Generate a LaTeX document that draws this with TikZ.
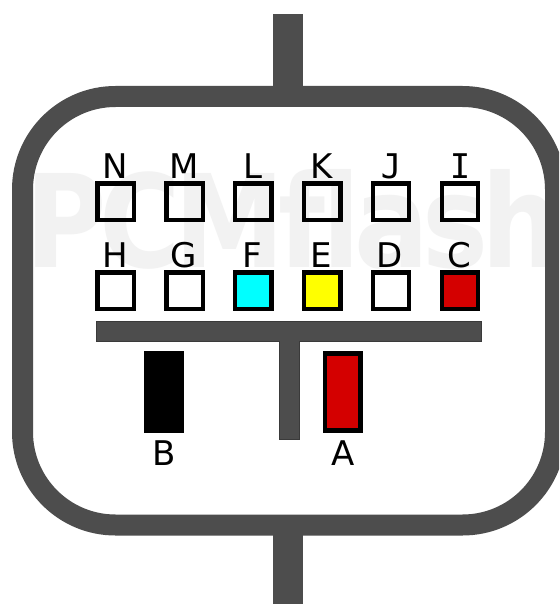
\documentclass[tikz,border=0pt]{standalone}
\usepackage{fontspec}
\setmainfont{DejaVu Sans}
\newfontfamily\monoface{DejaVu Sans Mono}
\newfontfamily\wmface[LetterSpace=-6]{DejaVu Sans Bold}
\definecolor{shell}{HTML}{4D4D4D}
\definecolor{barline}{HTML}{3A3A3A}
\definecolor{wm}{HTML}{F2F2F2}
\definecolor{pinred}{HTML}{D40000}
\definecolor{pincyan}{HTML}{00FFFF}
\definecolor{pinyellow}{HTML}{FFFF00}
\tikzset{
  pin/.style={draw=black,line width=4.4pt,minimum size=36.4pt,inner sep=0pt,outer sep=0pt},
  blade/.style={draw=black,line width=4.4pt,minimum width=35.6pt,minimum height=77pt,inner sep=0pt,outer sep=0pt},
  lab/.style={anchor=base,inner sep=0pt,font=\fontsize{34}{34}\selectfont,text=black},
  keyshape/.style={fill=shell,draw=barline,line width=0.8pt},
  shellstroke/.style={draw=shell,line width=21pt}
}
\begin{document}
\begin{tikzpicture}[x=1pt,y=-1pt]
\useasboundingbox (0,0) rectangle (559,604);
\clip (0,0) rectangle (559,604);
\fill[white] (0,0) rectangle (559,604);
\node[anchor=base west,inner sep=0pt,text=wm,font=\fontsize{129}{129}\wmface\selectfont,xscale=0.86] (wmark) at (25,267) {PCMflash};
% shell
\draw[shellstroke,rounded corners=93pt] (22.5,96.5) rectangle (555.5,525);
\fill[shell] (273,14) rectangle (303,90);
\fill[shell] (273,530) rectangle (303,604);
% key bar
\path[keyshape] (96.4,321) -- (481.4,321) -- (481.4,341.4) -- (299.2,341.4) -- (299.2,439) -- (279,439) -- (279,341.4) -- (96.4,341.4) -- cycle;
% top row
\node[pin] (pN) at (115.5,201.8) {};
\node[pin] (pM) at (184.5,201.8) {};
\node[pin] (pL) at (253.3,201.8) {};
\node[pin] (pK) at (322.2,201.8) {};
\node[pin] (pJ) at (391,201.8) {};
\node[pin] (pI) at (460,201.8) {};
% bottom row
\node[pin,fill=white] (pH) at (115.5,290.5) {};
\node[pin,fill=white] (pG) at (184.5,290.5) {};
\node[pin,fill=pincyan] (pF) at (253.3,290.5) {};
\node[pin,fill=pinyellow] (pE) at (322.2,290.5) {};
\node[pin,fill=white] (pD) at (391,290.5) {};
\node[pin,fill=pinred] (pC) at (460,290.5) {};
% blades
\node[blade,fill=black] (pB) at (164.2,392) {};
\node[blade,fill=pinred] (pA) at (342.7,392) {};
% labels
\node[lab] (lN) at (115.5,178) {N};
\node[lab] (lM) at (184.3,178) {M};
\node[lab] (lL) at (253,178) {L};
\node[lab] (lK) at (322,178) {K};
\node[lab,font=\fontsize{34}{34}\monoface\selectfont] (lJ) at (391,178) {J};
\node[lab,font=\fontsize{34}{34}\monoface\selectfont] (lI) at (460,178) {I};
\node[lab] (lH) at (115.5,267) {H};
\node[lab] (lG) at (183.5,267) {G};
\node[lab] (lF) at (252,267) {F};
\node[lab] (lE) at (321,267) {E};
\node[lab] (lD) at (390,267) {D};
\node[lab] (lC) at (459,267) {C};
\node[lab] (lB) at (164,465) {B};
\node[lab] (lA) at (342.7,465) {A};
\end{tikzpicture}
\end{document}
